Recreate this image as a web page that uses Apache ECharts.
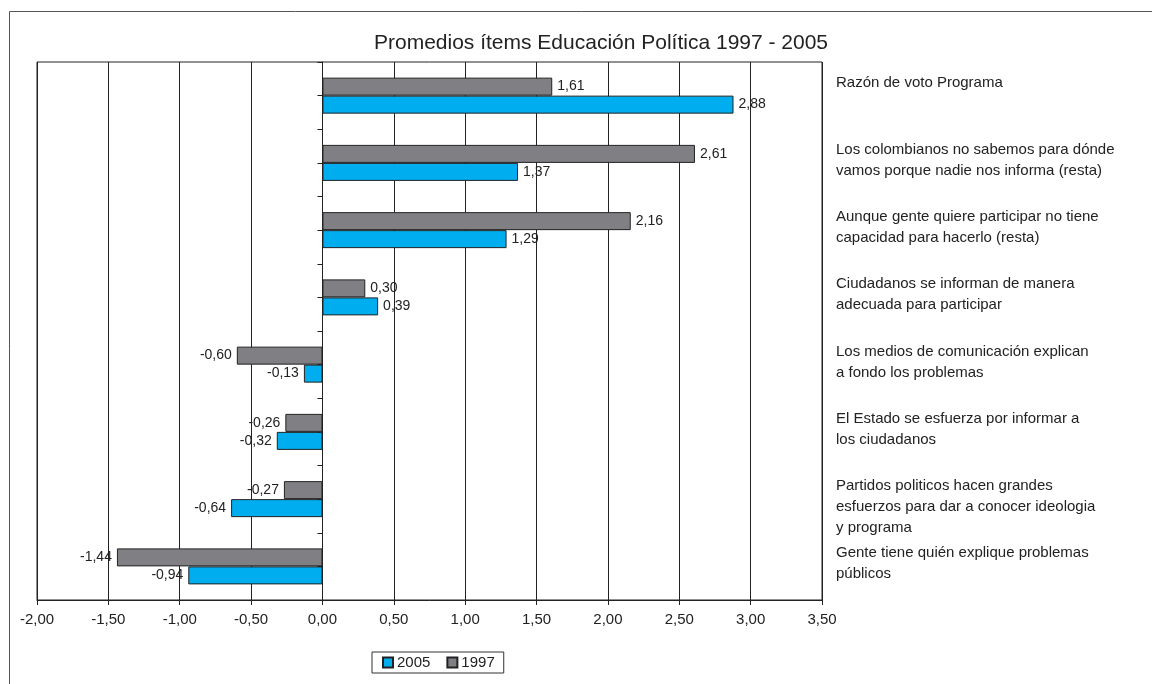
<!DOCTYPE html>
<html>
<head>
<meta charset="utf-8">
<script src="https://cdn.jsdelivr.net/npm/echarts@6/dist/echarts.min.js"></script>
<style>
  html, body { margin: 0; padding: 0; background: #fff; }
  #chart { width: 1152px; height: 684px; }
</style>
</head>
<body>
<div id="chart"></div>
<script>
// categories, top to bottom
const categories = [
  'Razón de voto Programa',
  'Los colombianos no sabemos para dónde\nvamos porque nadie nos informa (resta)',
  'Aunque gente quiere participar no tiene\ncapacidad para hacerlo (resta)',
  'Ciudadanos se informan de manera\nadecuada para participar',
  'Los medios de comunicación explican\na fondo los problemas',
  'El Estado se esfuerza por informar a\nlos ciudadanos',
  'Partidos politicos hacen grandes\nesfuerzos para dar a conocer ideologia\ny programa',
  'Gente tiene quién explique problemas\npúblicos'
];
const values1997 = [1.61, 2.61, 2.16, 0.30, -0.60, -0.26, -0.27, -1.44];
const values2005 = [2.88, 1.37, 1.29, 0.39, -0.13, -0.32, -0.64, -0.94];
const xTicks = { min: -2, max: 3.5, interval: 0.5 };

const textFont = 'Liberation Sans, Arial, sans-serif';
const fmt = v => v.toFixed(2).replace('.', ',');

// label goes on the outer end of each bar
function toItems(arr) {
  return arr.map(v => ({
    value: v,
    label: { position: v < 0 ? 'left' : 'right' }
  }));
}

const myChart = echarts.init(document.getElementById('chart'));

const barLabel = {
  show: true,
  distance: 5,
  formatter: p => fmt(p.value),
  color: '#222',
  fontSize: 14,
  fontFamily: textFont
};

const option = {
  animation: false,
  title: {
    text: 'Promedios ítems Educación Política 1997 - 2005',
    left: 596,
    textAlign: 'center',
    top: 28,
    textStyle: { color: '#222', fontSize: 21, fontWeight: 'normal', fontFamily: textFont }
  },
  legend: {
    data: ['2005', '1997'],
    left: 372,
    top: 652,
    itemWidth: 10,
    itemHeight: 10,
    itemGap: 16,
    icon: 'rect',
    padding: [3, 9, 3, 10],
    borderColor: '#333',
    borderWidth: 1,
    textStyle: { color: '#222', fontSize: 15, fontFamily: textFont, padding: [0, 0, 0, -1] }
  },
  graphic: [{
    type: 'rect',
    shape: { x: 9.5, y: 11.5, width: 1200, height: 700 },
    style: { fill: 'none', stroke: '#555', lineWidth: 1 },
    silent: true
  }],
  grid: {
    left: 37,
    right: 330,
    top: 62,
    bottom: 84,
    show: true,
    borderColor: '#222',
    borderWidth: 1
  },
  xAxis: {
    type: 'value',
    min: xTicks.min,
    max: xTicks.max,
    interval: xTicks.interval,
    axisLine: { show: true, lineStyle: { color: '#222' } },
    axisTick: { show: true, length: 5, lineStyle: { color: '#222' } },
    splitLine: { show: true, lineStyle: { color: '#222', width: 1 } },
    axisLabel: {
      formatter: v => fmt(v),
      color: '#222',
      fontSize: 15,
      fontFamily: textFont,
      margin: 12
    }
  },
  yAxis: [
    {
      // zero line with half-band tick marks
      type: 'category',
      data: categories.concat(categories),
      inverse: true,
      position: 'left',
      axisLine: { show: true, onZero: true, lineStyle: { color: '#222' } },
      axisTick: { show: true, length: 5, lineStyle: { color: '#222' } },
      axisLabel: { show: false },
      splitLine: { show: false }
    },
    {
      // category text on the right, hung from each band's top
      type: 'category',
      data: categories.concat(['']),
      inverse: true,
      boundaryGap: false,
      position: 'right',
      axisLine: { show: false, onZero: false },
      axisTick: { show: false },
      splitLine: { show: false },
      axisLabel: {
        interval: 0,
        margin: 14,
        align: 'left',
        verticalAlign: 'top',
        padding: [10, 0, 0, 0],
        lineHeight: 21,
        color: '#222',
        fontSize: 15,
        fontFamily: textFont
      }
    },
    {
      // the bars' axis
      type: 'category',
      data: categories,
      inverse: true,
      position: 'left',
      axisLine: { show: false, onZero: false },
      axisTick: { show: false },
      axisLabel: { show: false },
      splitLine: { show: false }
    }
  ],
  series: [
    {
      name: '1997',
      type: 'bar',
      yAxisIndex: 2,
      data: toItems(values1997),
      barWidth: 18,
      barGap: '0%',
      z: 3,
      itemStyle: { color: '#808084', borderColor: '#222', borderWidth: 1 },
      label: barLabel
    },
    {
      name: '2005',
      type: 'bar',
      yAxisIndex: 2,
      data: toItems(values2005),
      barWidth: 18,
      barGap: '0%',
      z: 3,
      itemStyle: { color: '#00AEEF', borderColor: '#222', borderWidth: 1 },
      label: barLabel
    }
  ]
};

myChart.setOption(option);
window.addEventListener('resize', () => {
  myChart.resize();
});
</script>
</body>
</html>
